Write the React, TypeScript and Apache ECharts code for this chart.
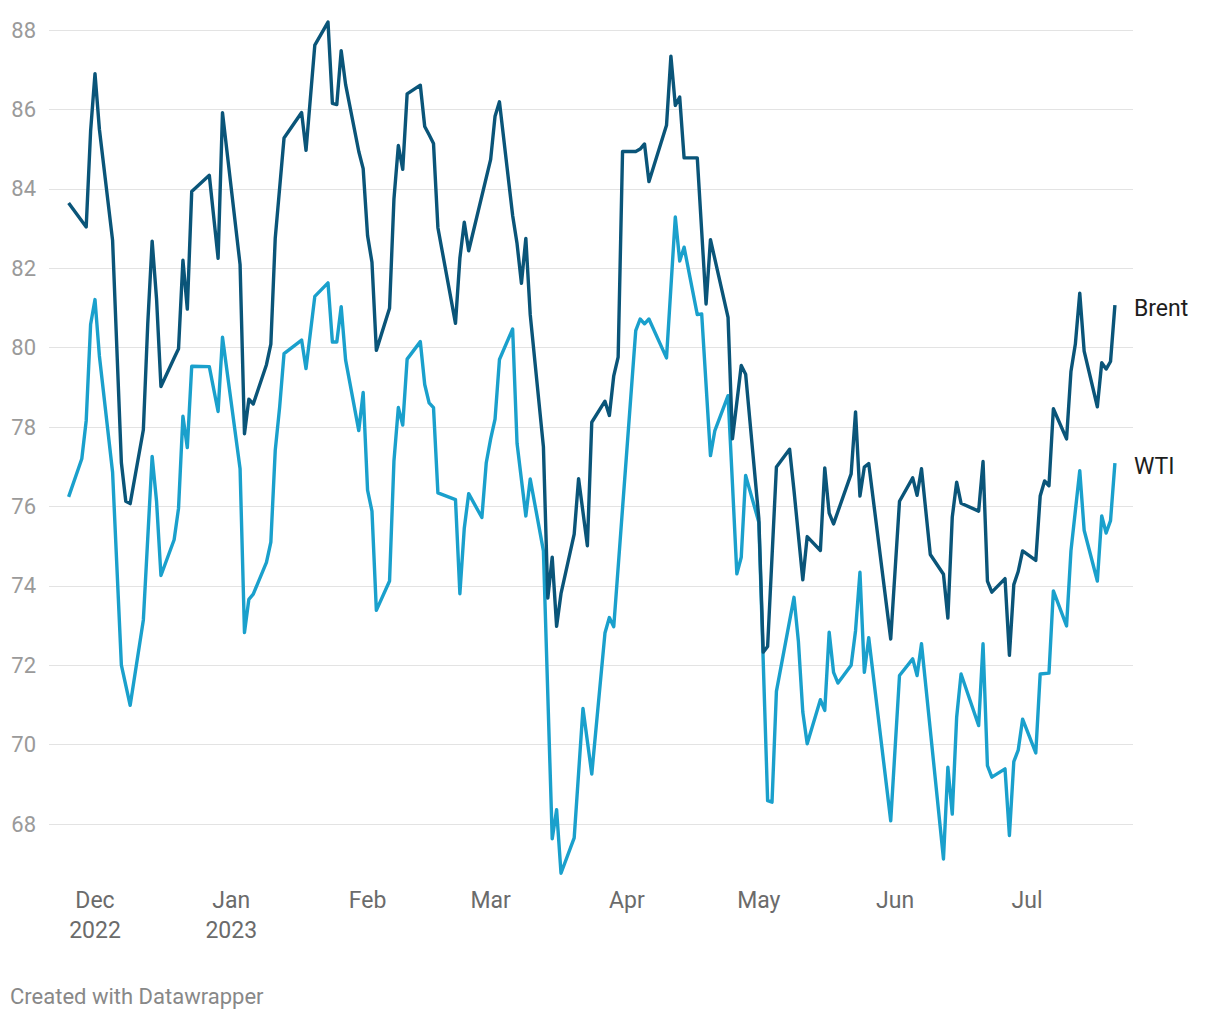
import React, { useEffect, useRef } from "react";
import * as echarts from "echarts";

const brentDates = [
  "2022-11-25","2022-11-29","2022-11-30","2022-12-01","2022-12-02","2022-12-05","2022-12-07","2022-12-08","2022-12-09",
  "2022-12-12","2022-12-13","2022-12-14","2022-12-15","2022-12-16","2022-12-19","2022-12-20","2022-12-21","2022-12-22","2022-12-23",
  "2022-12-27","2022-12-29","2022-12-30","2023-01-03","2023-01-04","2023-01-05","2023-01-06","2023-01-09","2023-01-10","2023-01-11",
  "2023-01-13","2023-01-17","2023-01-18","2023-01-20","2023-01-23","2023-01-24","2023-01-25","2023-01-26","2023-01-27","2023-01-30",
  "2023-01-31","2023-02-01","2023-02-02","2023-02-03","2023-02-06","2023-02-07","2023-02-08","2023-02-09","2023-02-10","2023-02-13",
  "2023-02-14","2023-02-15","2023-02-16","2023-02-17","2023-02-21","2023-02-22","2023-02-23","2023-02-24","2023-03-01","2023-03-02",
  "2023-03-03","2023-03-06","2023-03-07","2023-03-08","2023-03-09","2023-03-10","2023-03-13","2023-03-14","2023-03-15","2023-03-16",
  "2023-03-17","2023-03-20","2023-03-21","2023-03-23","2023-03-24","2023-03-27","2023-03-28","2023-03-29","2023-03-30","2023-03-31",
  "2023-04-03","2023-04-04","2023-04-05","2023-04-06","2023-04-10","2023-04-11","2023-04-12","2023-04-13","2023-04-14","2023-04-17",
  "2023-04-19","2023-04-20","2023-04-24","2023-04-25","2023-04-27","2023-04-28","2023-05-01","2023-05-02","2023-05-03","2023-05-05",
  "2023-05-08","2023-05-09","2023-05-11","2023-05-12","2023-05-15","2023-05-16","2023-05-17","2023-05-18","2023-05-22","2023-05-23",
  "2023-05-24","2023-05-25","2023-05-26","2023-05-31","2023-06-02","2023-06-05","2023-06-06","2023-06-07","2023-06-09","2023-06-12",
  "2023-06-13","2023-06-14","2023-06-15","2023-06-16","2023-06-20","2023-06-21","2023-06-22","2023-06-23","2023-06-26","2023-06-27",
  "2023-06-28","2023-06-29","2023-06-30","2023-07-03","2023-07-04","2023-07-05","2023-07-06","2023-07-07","2023-07-10","2023-07-11",
  "2023-07-12","2023-07-13","2023-07-14","2023-07-17","2023-07-18","2023-07-19","2023-07-20","2023-07-21"
];
const brentValues = [
  83.64,83.04,85.45,86.9,85.5,82.7,77.1,76.13,76.07,
  77.93,80.6,82.68,81.23,79.02,79.74,79.97,82.2,80.97,83.93,
  84.34,82.25,85.92,82.09,77.83,78.7,78.58,79.57,80.09,82.76,
  85.28,85.92,84.97,87.62,88.2,86.15,86.12,87.48,86.63,84.94,
  84.51,82.82,82.15,79.93,80.99,83.74,85.09,84.49,86.39,86.61,
  85.57,85.36,85.14,83.02,80.61,82.25,83.16,82.44,84.74,85.83,
  86.19,83.33,82.62,81.62,82.75,80.83,77.5,73.69,74.72,72.98,
  73.8,75.3,76.7,75.01,78.12,78.65,78.29,79.29,79.76,84.94,
  84.94,85.0,85.13,84.18,85.6,87.34,86.1,86.31,84.78,84.78,
  81.1,82.72,80.76,77.7,79.55,79.33,75.7,72.33,72.47,76.99,
  77.44,76.4,74.15,75.24,74.89,76.97,75.83,75.56,76.82,78.38,
  76.26,76.99,77.08,72.66,76.13,76.72,76.28,76.95,74.79,74.29,
  73.19,75.73,76.61,76.08,75.88,77.13,74.12,73.84,74.18,72.25,
  74.03,74.36,74.88,74.64,76.26,76.64,76.52,78.46,77.7,79.4,
  80.09,81.37,79.91,78.51,79.62,79.46,79.65,81.07
];

const wtiDates = [
  "2022-11-25","2022-11-28","2022-11-29","2022-11-30","2022-12-01","2022-12-02","2022-12-05","2022-12-07","2022-12-09",
  "2022-12-12","2022-12-14","2022-12-15","2022-12-16","2022-12-19","2022-12-20","2022-12-21","2022-12-22","2022-12-23",
  "2022-12-27","2022-12-29","2022-12-30","2023-01-03","2023-01-04","2023-01-05","2023-01-06","2023-01-09","2023-01-10","2023-01-11",
  "2023-01-12","2023-01-13","2023-01-17","2023-01-18","2023-01-20","2023-01-23","2023-01-24","2023-01-25","2023-01-26","2023-01-27",
  "2023-01-30","2023-01-31","2023-02-01","2023-02-02","2023-02-03","2023-02-06","2023-02-07","2023-02-08","2023-02-09","2023-02-10",
  "2023-02-13","2023-02-14","2023-02-15","2023-02-16","2023-02-17","2023-02-21","2023-02-22","2023-02-23","2023-02-24","2023-02-27",
  "2023-02-28","2023-03-01","2023-03-02","2023-03-03","2023-03-06","2023-03-07","2023-03-09","2023-03-10","2023-03-13","2023-03-15",
  "2023-03-16","2023-03-17","2023-03-20","2023-03-22","2023-03-24","2023-03-27","2023-03-28","2023-03-29","2023-04-03","2023-04-04",
  "2023-04-05","2023-04-06","2023-04-10","2023-04-12","2023-04-13","2023-04-14","2023-04-17","2023-04-18","2023-04-20","2023-04-21",
  "2023-04-24","2023-04-25","2023-04-26","2023-04-27","2023-04-28","2023-05-01","2023-05-03","2023-05-04","2023-05-05","2023-05-09",
  "2023-05-10","2023-05-11","2023-05-12","2023-05-15","2023-05-16","2023-05-17","2023-05-18","2023-05-19","2023-05-22","2023-05-23",
  "2023-05-24","2023-05-25","2023-05-26","2023-05-31","2023-06-02","2023-06-05","2023-06-06","2023-06-07","2023-06-12","2023-06-13",
  "2023-06-14","2023-06-15","2023-06-16","2023-06-20","2023-06-21","2023-06-22","2023-06-23","2023-06-26","2023-06-27","2023-06-28",
  "2023-06-29","2023-06-30","2023-07-03","2023-07-04","2023-07-06","2023-07-07","2023-07-10","2023-07-11","2023-07-13","2023-07-14",
  "2023-07-17","2023-07-18","2023-07-19","2023-07-20","2023-07-21"
];
const wtiValues = [
  76.24,77.2,78.16,80.58,81.21,79.79,76.86,72.0,70.99,
  73.14,77.26,76.13,74.26,75.16,75.95,78.27,77.48,79.53,
  79.52,78.39,80.26,76.95,72.82,73.66,73.79,74.59,75.1,77.41,
  78.5,79.85,80.19,79.47,81.29,81.63,80.14,80.14,81.03,79.69,
  77.91,78.87,76.41,75.88,73.38,74.12,77.14,78.49,78.05,79.71,
  80.15,79.07,78.61,78.49,76.34,76.17,73.8,75.45,76.32,75.72,
  77.1,77.7,78.2,79.7,80.47,77.59,75.76,76.69,74.88,67.63,
  68.36,66.76,67.65,70.91,69.26,72.81,73.2,72.97,80.43,80.72,
  80.6,80.72,79.74,83.29,82.18,82.53,80.83,80.85,77.28,77.91,
  78.79,76.57,74.3,74.72,76.78,75.6,68.59,68.55,71.34,73.71,
  72.6,70.82,70.02,71.13,70.86,72.83,71.82,71.55,72.0,72.87,
  74.34,71.82,72.69,68.08,71.74,72.16,71.74,72.54,67.12,69.43,
  68.25,70.69,71.78,70.48,72.54,69.47,69.18,69.39,67.71,69.57,
  69.86,70.64,69.79,71.78,71.8,73.87,72.99,74.88,76.9,75.4,
  74.12,75.76,75.33,75.64,77.09
];

const yTicks = [68, 70, 72, 74, 76, 78, 80, 82, 84, 86, 88];
const monthTicks: [number, number, string][] = [
  [2022, 11, "Dec\n2022"], [2023, 0, "Jan\n2023"], [2023, 1, "Feb"], [2023, 2, "Mar"],
  [2023, 3, "Apr"], [2023, 4, "May"], [2023, 5, "Jun"], [2023, 6, "Jul"]
];

const seriesNames = ["Brent", "WTI"];
const colors = ["#0a5579", "#1aa0cc"];

const toTime = (s: string) => {
  const [y, m, d] = s.split("-").map(Number);
  return new Date(y, m - 1, d).getTime();
};

export default function App() {
  const ref = useRef<HTMLDivElement>(null);
  useEffect(() => {
    if (!ref.current) return;
    document.body.style.margin = "0";
    const chart = echarts.init(ref.current, null, { renderer: "svg" });
    const DAY = 86400000;
    const tickTimes = monthTicks.map(([y, m]) => new Date(y, m, 1).getTime());
    const dec1 = tickTimes[0];
    const jul1 = tickTimes[tickTimes.length - 1];
    const gridLeft = 49, gridRight = 1133, decX = 95, julX = 1027;
    const pxPerDay = (julX - decX) / ((jul1 - dec1) / DAY);
    const xMin = dec1 - ((decX - gridLeft) / pxPerDay) * DAY;
    const xMax = jul1 + ((gridRight - julX) / pxPerDay) * DAY;
    const labelFor = (v: number) => {
      let best = -1, bd = Infinity;
      tickTimes.forEach((t, i) => { const d = Math.abs(t - v); if (d < bd) { bd = d; best = i; } });
      return bd < DAY ? monthTicks[best][2] : "";
    };

    const mk = (d: string[], v: number[]) => d.map((s, i) => [toTime(s), v[i]]);
    const font = "Roboto, 'Noto Sans', sans-serif";

    chart.setOption({
      animation: false,
      textStyle: { fontFamily: font },
      grid: { left: gridLeft, right: 1220 - gridRight, top: 30, bottom: 1020 - 824, containLabel: false },
      xAxis: {
        type: "value",
        min: xMin,
        max: xMax,
        axisLine: { show: false },
        axisTick: { show: false },
        splitLine: { show: false },
        axisLabel: {
          customValues: tickTimes,
          formatter: (val: number) => labelFor(val),
          color: "#6b6b6b",
          fontSize: 23,
          lineHeight: 30,
          margin: 61,
          fontFamily: font,
        },
      },
      yAxis: {
        type: "value",
        min: yTicks[0],
        max: yTicks[yTicks.length - 1],
        interval: 2,
        axisLine: { show: false },
        axisTick: { show: false },
        splitLine: { show: true, lineStyle: { color: "#e3e3e3", width: 1 } },
        axisLabel: { color: "#9a9a9a", fontSize: 22, margin: 13, align: "right", fontFamily: font },
      },
      series: [
        { name: seriesNames[0], data: mk(brentDates, brentValues) },
        { name: seriesNames[1], data: mk(wtiDates, wtiValues) },
      ].map((s, i) => ({
        ...s,
        type: "line",
        showSymbol: false,
        symbol: "none",
        clip: false,
        lineStyle: { color: colors[i], width: 3.4, join: "round" },
        itemStyle: { color: colors[i] },
        endLabel: {
          show: true,
          formatter: "{a}",
          color: "#1d1d1d",
          fontSize: 23,
          distance: 19,
          offset: [0, 3],
          fontFamily: font,
        },
        z: i === 0 ? 3 : 2,
      })),
      graphic: [
        {
          type: "text",
          left: 10,
          top: 985,
          style: { text: "Created with Datawrapper", fill: "#888888", font: `22px ${font}` },
        },
      ],
    });
    return () => chart.dispose();
  }, []);
  return <div ref={ref} style={{ position: "absolute", left: 0, top: 0, width: 1220, height: 1020, background: "#fff" }} />;
}
